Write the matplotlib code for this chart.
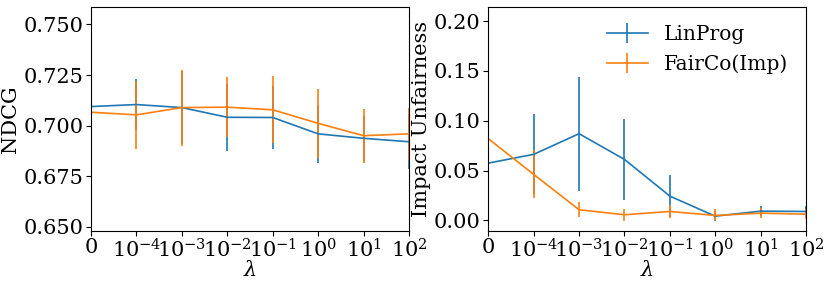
import numpy as np
import matplotlib
matplotlib.use("Agg")
import matplotlib.pyplot as plt

plt.rcParams['font.family'] = 'DejaVu Serif'
plt.rcParams['mathtext.fontset'] = 'dejavuserif'

# lambda values shown as evenly spaced categories
lambda_labels = ['0', r'$10^{-4}$', r'$10^{-3}$', r'$10^{-2}$', r'$10^{-1}$',
                 r'$10^{0}$', r'$10^{1}$', r'$10^{2}$']

# NDCG (left)
ndcg_linprog = [0.7094, 0.7104, 0.7089, 0.7041, 0.7040, 0.6959, 0.6937, 0.6920]
ndcg_linprog_err = [0.015, 0.0125, 0.018, 0.0165, 0.0158, 0.0145, 0.011, 0.0135]
ndcg_fairco = [0.7066, 0.7053, 0.7089, 0.7091, 0.7078, 0.7011, 0.6950, 0.6959]
ndcg_fairco_err = [0.018, 0.0167, 0.0188, 0.0149, 0.0165, 0.017, 0.0133, 0.013]

# Impact unfairness (right)
unf_linprog = [0.0575, 0.0663, 0.0870, 0.0612, 0.0244, 0.0043, 0.0093, 0.0090]
unf_linprog_err = [0.050, 0.040, 0.057, 0.041, 0.021, 0.005, 0.005, 0.005]
unf_fairco = [0.0820, 0.0462, 0.0107, 0.0057, 0.0090, 0.0050, 0.0073, 0.0063]
unf_fairco_err = [0.048, 0.024, 0.0077, 0.006, 0.0065, 0.006, 0.005, 0.005]

x = np.arange(len(lambda_labels))
fs = 15

fig = plt.figure(figsize=(8.3, 2.84), dpi=100)
ax1 = fig.add_axes([91 / 830, (284 - 230.7) / 284, (409 - 91) / 830, (230.7 - 7.3) / 284])
ax2 = fig.add_axes([488.3 / 830, (284 - 230.7) / 284, (806 - 488.3) / 830, (230.7 - 7.3) / 284])

ax1.errorbar(x, ndcg_linprog, yerr=ndcg_linprog_err, color='#1f77b4', lw=1.2, elinewidth=1.2, label='LinProg')
ax1.errorbar(x, ndcg_fairco, yerr=ndcg_fairco_err, color='#ff7f0e', lw=1.2, elinewidth=1.2, label='FairCo(Imp)')
ax1.set_ylim(0.648, 0.7585)
ax1.set_yticks([0.650, 0.675, 0.700, 0.725, 0.750])
ax1.set_ylabel('NDCG', fontsize=fs, labelpad=2)

ax2.errorbar(x, unf_linprog, yerr=unf_linprog_err, color='#1f77b4', lw=1.2, elinewidth=1.2, label='LinProg')
ax2.errorbar(x, unf_fairco, yerr=unf_fairco_err, color='#ff7f0e', lw=1.2, elinewidth=1.2, label='FairCo(Imp)')
ax2.set_ylim(-0.0103, 0.2138)
ax2.set_yticks([0.00, 0.05, 0.10, 0.15, 0.20])
ax2.set_ylabel('Impact Unfairness', fontsize=fs, labelpad=2)
ax2.legend(loc='upper right', frameon=False, fontsize=14.5, handlelength=2.0,
           handletextpad=0.8)

for ax in (ax1, ax2):
    ax.set_xlim(0, 7)
    ax.set_xticks(x)
    ax.set_xticklabels(lambda_labels)
    ax.set_xlabel(r'$\lambda$', fontsize=fs, labelpad=-1)
    ax.tick_params(labelsize=fs, pad=2)
ax1.yaxis.set_major_formatter(matplotlib.ticker.FormatStrFormatter('%.3f'))
ax2.yaxis.set_major_formatter(matplotlib.ticker.FormatStrFormatter('%.2f'))

fig.savefig('out.png', dpi=100)
